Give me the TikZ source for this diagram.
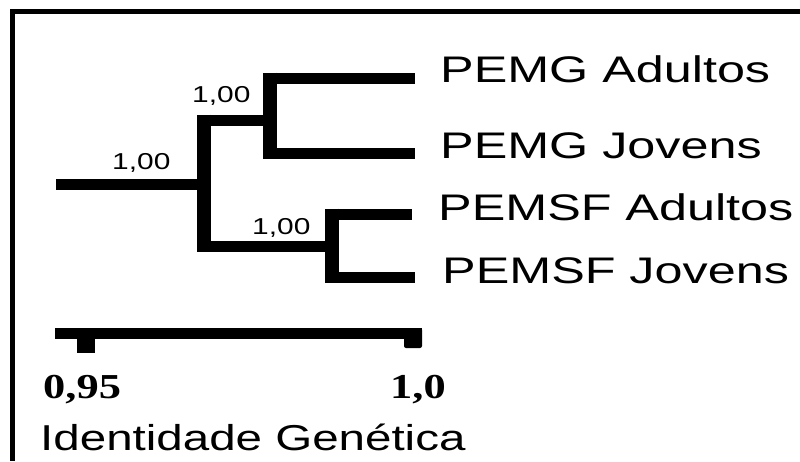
\documentclass[tikz,border=0pt]{standalone}
\usepackage{fontspec}
\usepackage{graphicx}
\setmainfont{Liberation Sans}
\newfontfamily\numserif{Liberation Serif}
% labels are set wide, as in the printed figure
\newcommand{\widetext}[2][1.36]{\scalebox{#1}[1]{#2}}

\begin{document}
\begin{tikzpicture}[x=1pt,y=-1pt,
  hbranch/.style={line width=11pt},
  vbranch/.style={line width=14pt, shorten <=-5.5pt, shorten >=-5.5pt},
  frameline/.style={line width=5pt},
  taxon/.style={anchor=base west, inner sep=0pt, font=\fontsize{37}{42}\selectfont},
  support/.style={anchor=base west, inner sep=0pt, font=\fontsize{23}{26}\selectfont},
  scalenum/.style={anchor=base west, inner sep=0pt, font=\numserif\bfseries\fontsize{35}{40}\selectfont},
  axistitle/.style={anchor=base west, inner sep=0pt, font=\fontsize{36}{40}\selectfont}]

\useasboundingbox (0,0) rectangle (800,461);
\fill[white] (0,0) rectangle (800,461);

% frame: top and left edges
\draw[frameline] (10,11.5) -- (800,11.5);
\draw[frameline] (12.5,9) -- (12.5,461);

% tree nodes
\coordinate (root) at (56,184);
\coordinate (n0) at (204,184);
\coordinate (n0t) at (204,120);
\coordinate (n0b) at (204,246);
\coordinate (n1t) at (270,78);
\coordinate (n1b) at (270,153);
\coordinate (n1) at (270,120);
\coordinate (n2t) at (332,214);
\coordinate (n2b) at (332,277);
\coordinate (n2) at (332,246);
\coordinate (la) at (415,78);
\coordinate (lb) at (415,153);
\coordinate (lc) at (412,214);
\coordinate (ld) at (415,277);

% vertical bars
\draw[vbranch] (n0t) -- (n0b);
\draw[vbranch] (n1t) -- (n1b);
\draw[vbranch] (n2t) -- (n2b);

% horizontal branches
\draw[hbranch] (root) -- (n0);
\draw[hbranch] (n0t) -- (n1);
\draw[hbranch] (n0b) -- (n2);
\draw[hbranch] (n1t) -- (la);
\draw[hbranch] (n1b) -- (lb);
\draw[hbranch] (n2t) -- (lc);
\draw[hbranch] (n2b) -- (ld);

% taxa
\node[taxon] (ta) at (440,82) {\widetext{PEMG Adultos}};
\node[taxon] (tb) at (440,158) {\widetext{PEMG Jovens}};
\node[taxon] (tc) at (438,220) {\widetext{PEMSF Adultos}};
\node[taxon] (td) at (442,283) {\widetext{PEMSF Jovens}};

% support values
\node[support] (s0) at (112,169) {\widetext[1.3]{1,00}};
\node[support] (s1) at (192,102) {\widetext[1.3]{1,00}};
\node[support] (s2) at (252,234) {\widetext[1.3]{1,00}};

% scale bar
\coordinate (bl) at (55,328);
\coordinate (br) at (422,339);
\fill (bl) rectangle (br);
\fill (77,328) rectangle (95,353);
\fill[rounded corners=2pt] (404,328) -- (422,328) -- (422,348) -- (404,348) -- cycle;

\node[scalenum] (lo) at (43,398) {\widetext[1.27]{0,95}};
\node[scalenum] (hi) at (390,398) {\widetext[1.27]{1,0}};
\node[axistitle] (ax) at (40,450) {\widetext[1.32]{Identidade Genética}};
\end{tikzpicture}
\end{document}
